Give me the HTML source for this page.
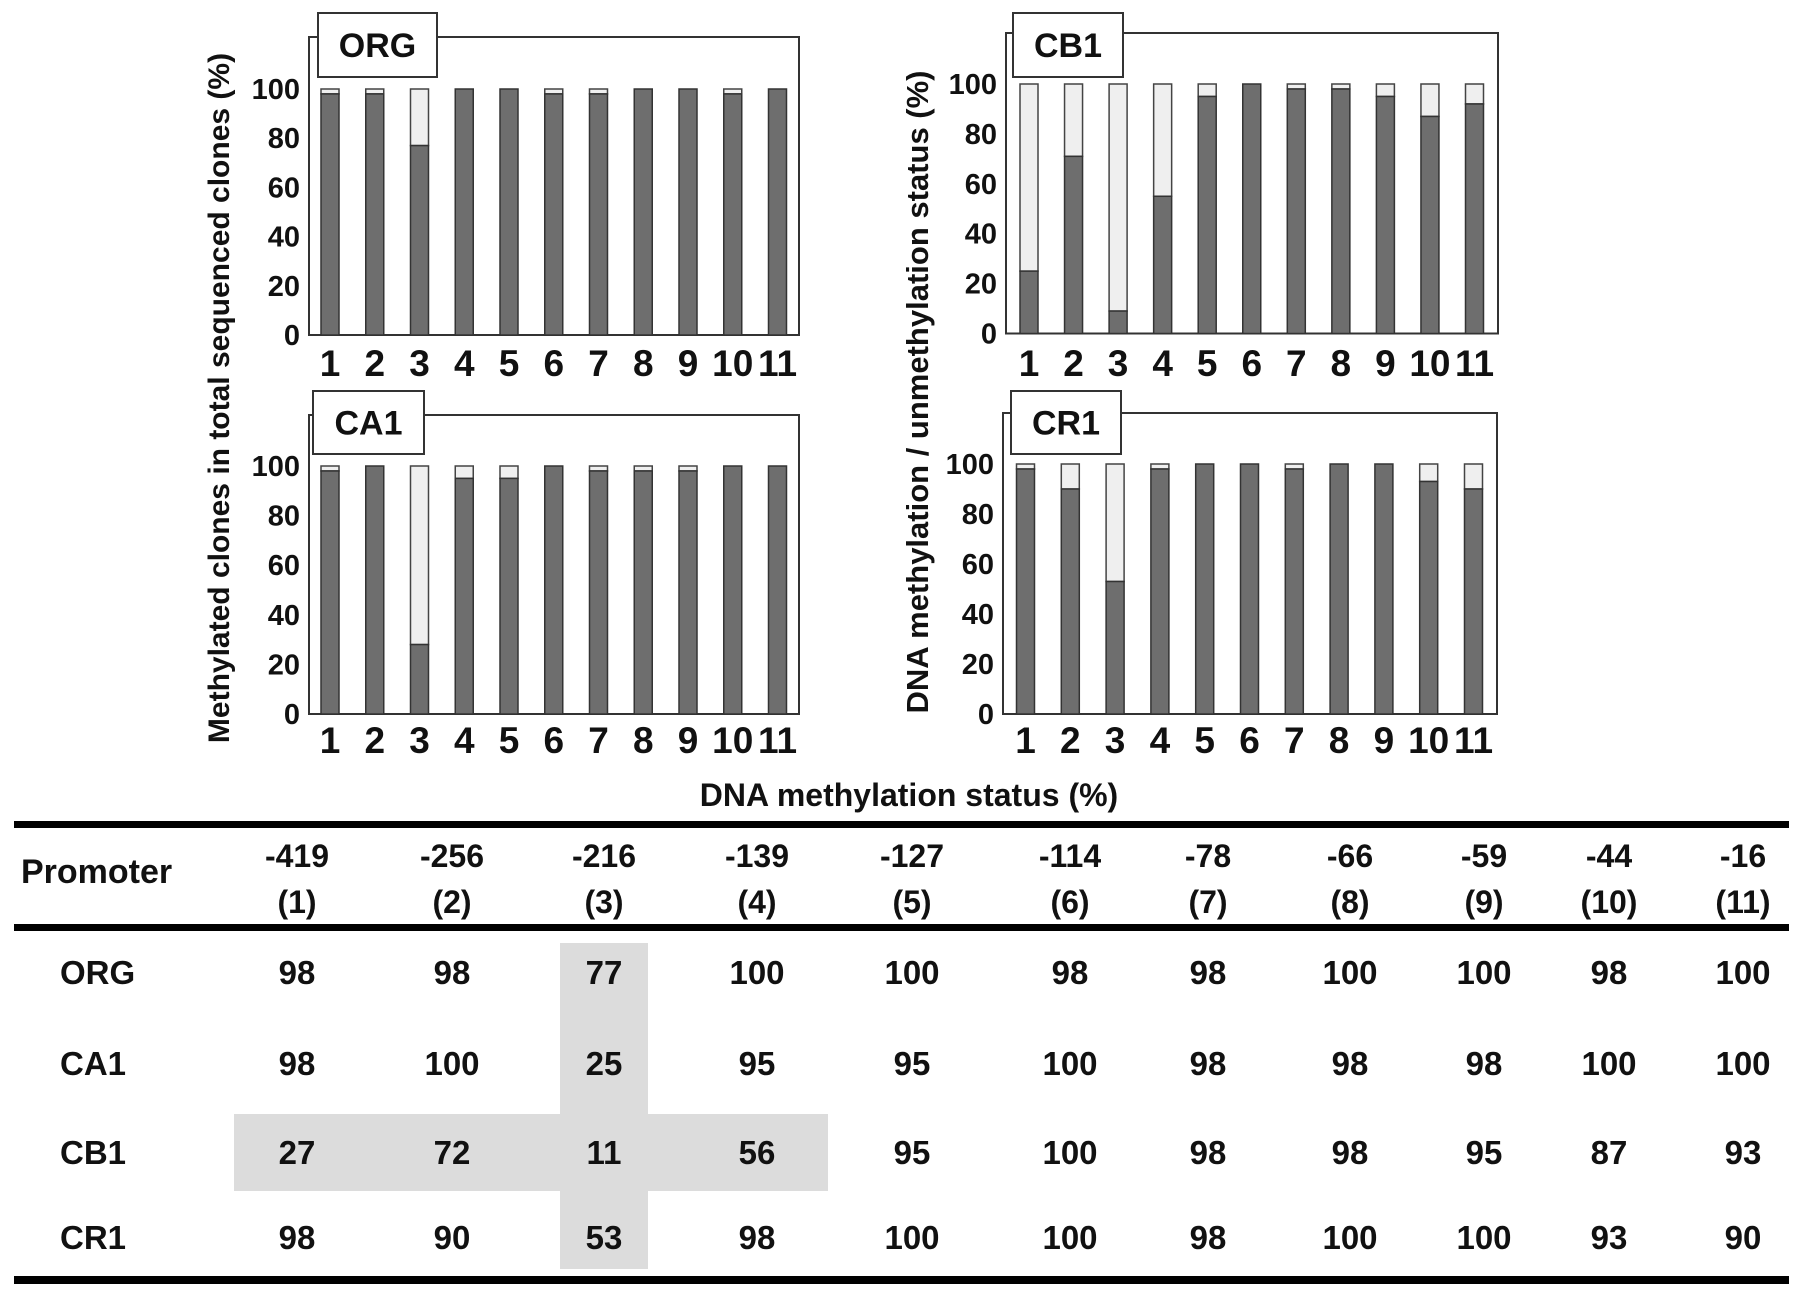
<!DOCTYPE html>
<html><head><meta charset="utf-8"><style>
html,body{margin:0;padding:0;background:#fff}
svg{display:block;font-family:"Liberation Sans",Arial,sans-serif;font-weight:bold}
</style></head><body>
<svg id="fig" width="1795" height="1299" viewBox="0 0 1795 1299" xmlns="http://www.w3.org/2000/svg">
<text transform="translate(229,398) rotate(-90)" text-anchor="middle" font-size="30" fill="#111">Methylated clones in total sequenced clones (%)</text>
<text transform="translate(928,392) rotate(-90)" text-anchor="middle" font-size="31" fill="#111">DNA methylation / unmethylation status (%)</text>
<text x="909" y="806" text-anchor="middle" font-size="32" fill="#111">DNA methylation status (%)</text>
<rect x="560" y="943" width="88" height="326" fill="#dcdcdc"/>
<rect x="234" y="1114" width="594" height="77" fill="#dcdcdc"/>
<rect x="14" y="821" width="1775" height="7" fill="#000"/>
<rect x="14" y="924" width="1775" height="7" fill="#000"/>
<rect x="14" y="1276" width="1775" height="8" fill="#000"/>
<g id="charts"></g>
<g id="table"></g>
</svg>
<script>
const sites = ["1","2","3","4","5","6","7","8","9","10","11"];
const yTicks = [0,20,40,60,80,100];
const orgVals = [98,98,77,100,100,98,98,100,100,98,100];
const ca1Vals = [98,100,28,95,95,100,98,98,98,100,100];
const cb1Vals = [25,71,9,55,95,100,98,98,95,87,92];
const cr1Vals = [98,90,53,98,100,100,98,100,100,93,90];
const positions = ["-419","-256","-216","-139","-127","-114","-78","-66","-59","-44","-16"];
const tableRows = ["ORG","CA1","CB1","CR1"];
const tOrg = [98,98,77,100,100,98,98,100,100,98,100];
const tCa1 = [98,100,25,95,95,100,98,98,98,100,100];
const tCb1 = [27,72,11,56,95,100,98,98,95,87,93];
const tCr1 = [98,90,53,98,100,100,98,100,100,93,90];

const NS="http://www.w3.org/2000/svg";
function mk(tag,attrs,parent){const e=document.createElementNS(NS,tag);for(const k in attrs)e.setAttribute(k,attrs[k]);parent.appendChild(e);return e;}
const charts=document.getElementById('charts');
const panels=[
 {name:'ORG',vals:orgVals,L:309,R:799,T:37,Z:335,H:89,bx:[318,13,119,64],c0:330,c1:777.5,tl:362},
 {name:'CA1',vals:ca1Vals,L:309,R:799,T:415,Z:714,H:466,bx:[313,391,111,63],c0:330,c1:777.5,tl:739},
 {name:'CB1',vals:cb1Vals,L:1006,R:1498,T:33,Z:333.5,H:84,bx:[1013,13,110,64],c0:1029,c1:1474.5,tl:362},
 {name:'CR1',vals:cr1Vals,L:1003,R:1497,T:413,Z:714,H:464,bx:[1011,391,110,63],c0:1025.5,c1:1473.5,tl:739}
];
panels.forEach(p=>{
  const g=mk('g',{},charts);
  
  
  const y=v=>p.Z-(p.Z-p.H)*v/100;
  const x=i=>p.c0+(p.c1-p.c0)*i/(sites.length-1);
  const frame=mk('rect',{x:p.L,y:p.T,width:p.R-p.L,height:p.Z-p.T,fill:'none',stroke:'#333','stroke-width':2},g);
  
  
  yTicks.forEach(t=>{
    const tx=mk('text',{x:p.L-9,y:y(t)+10,'text-anchor':'end','font-size':29,fill:'#111'},g);
    
    
    tx.textContent=t;
  });
  p.vals.forEach((v,i)=>{
    const cx=x(i),w=18;
    const u=mk('rect',{x:cx-w/2,y:y(100),width:w,height:y(v)-y(100),fill:'#efefef',stroke:'#444','stroke-width':1.5},g);
    
    
    const b=mk('rect',{x:cx-w/2,y:y(v),width:w,height:p.Z-y(v),fill:'#6e6e6e',stroke:'#333','stroke-width':1.5},g);
    
    
    const tl=mk('text',{x:cx,y:p.tl+14,'text-anchor':'middle','font-size':37,fill:'#111'},g);
    
    
    tl.textContent=sites[i];
  });
  const box=mk('rect',{x:p.bx[0],y:p.bx[1],width:p.bx[2],height:p.bx[3],fill:'#fff',stroke:'#333','stroke-width':2},g);
  
  
  const lt=mk('text',{x:p.bx[0]+p.bx[2]/2,y:p.bx[1]+p.bx[3]/2+12,'text-anchor':'middle','font-size':34,fill:'#111'},g);
  
  
  lt.textContent=p.name;
});
const table=document.getElementById('table');
const colX=[297,452,604,757,912,1070,1208,1350,1484,1609,1743];
const ph=mk('text',{x:21,y:883,'font-size':34,fill:'#111'},table);


ph.textContent='Promoter';
positions.forEach((pos,i)=>{
  const a=mk('text',{x:colX[i],y:867,'text-anchor':'middle','font-size':32,fill:'#111'},table);
  
  
  a.textContent=pos;
  const b=mk('text',{x:colX[i],y:913,'text-anchor':'middle','font-size':32,fill:'#111'},table);
  
  
  b.textContent='('+sites[i]+')';
});
const rowY=[972,1063,1152,1237];
[tOrg,tCa1,tCb1,tCr1].forEach((arr,r)=>{
  const l=mk('text',{x:60,y:rowY[r]+12,'font-size':33,fill:'#111'},table);
  
  
  l.textContent=tableRows[r];
  arr.forEach((v,i)=>{
    const c=mk('text',{x:colX[i],y:rowY[r]+12,'text-anchor':'middle','font-size':33,fill:'#111'},table);
    
    
    c.textContent=v;
  });
});
</script>
</body></html>
